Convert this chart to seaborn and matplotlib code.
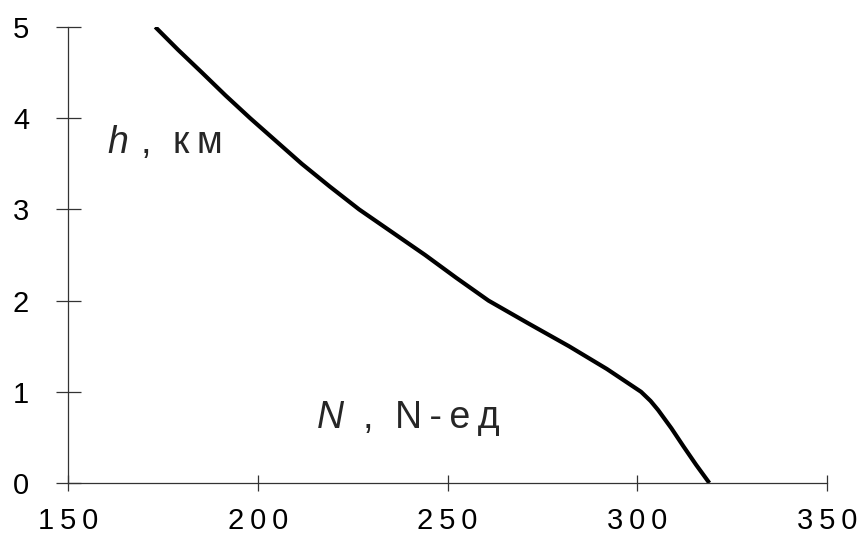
import matplotlib
matplotlib.use("Agg")
import matplotlib.pyplot as plt
import seaborn as sns
import pandas as pd

# Data
h_km = [5.0, 4.75, 4.5, 4.25, 4.0, 3.75, 3.5, 3.25, 3.0, 2.75, 2.5, 2.25, 2.0,
        1.75, 1.5, 1.25, 1.0, 0.9, 0.8, 0.6, 0.4, 0.2, 0.0]
N_units = [173, 179, 185.3, 191.5, 198, 204.8, 211.6, 219.0, 226.7, 235.4, 244.1, 252.3, 260.8,
           271.3, 282.0, 292.0, 301.0, 303.5, 305.5, 309, 312.2, 315.5, 319]
x_ticks = [150, 200, 250, 300, 350]
y_ticks = [0, 1, 2, 3, 4, 5]

sns.set_theme(style="white")
plt.rcParams['font.family'] = ['Liberation Sans', 'DejaVu Sans']

df = pd.DataFrame({"N": N_units, "h": h_km})

fig = plt.figure(figsize=(8.58, 5.39), dpi=100)
ax = fig.add_axes([68/858, 56/539, (827-68)/858, (483-27)/539])

sns.lineplot(data=df, x="N", y="h", sort=False, color="black", linewidth=3.0, ax=ax)
ax.lines[0].set_solid_joinstyle("round")
ax.lines[0].set_solid_capstyle("butt")

ax.set_xlim(150, 350)
ax.set_ylim(0, 5)
ax.set_xticks(x_ticks)
ax.set_yticks(y_ticks)
sp = "\u2009"
ax.set_xticklabels([sp.join(str(t)) for t in x_ticks])
ax.set_yticklabels([str(t) for t in y_ticks])
ax.set_xlabel("")
ax.set_ylabel("")

for s in ["top", "right"]:
    ax.spines[s].set_visible(False)
for s in ["left", "bottom"]:
    ax.spines[s].set_color("#333333")
    ax.spines[s].set_linewidth(0.9)

ax.tick_params(axis="y", direction="inout", length=18, width=0.9, color="#333333",
               pad=19, labelsize=21, labelcolor="black", left=True)
ax.tick_params(axis="x", direction="inout", length=12, width=0.9, color="#333333",
               pad=11, labelsize=21, labelcolor="black", bottom=True)

fs = 27
ax.text(160.3, 3.62, "h", fontsize=fs, style="italic", ha="left", va="baseline")
ax.text(169.2, 3.62, ",", fontsize=fs, ha="left", va="baseline")
ax.text(177.7, 3.62, "к\u2009м", fontsize=fs, ha="left", va="baseline")
ax.text(215.6, 0.60, "N", fontsize=fs, style="italic", ha="left", va="baseline")
ax.text(227.5, 0.60, ",", fontsize=fs, ha="left", va="baseline")
ax.text(236.2, 0.60, "N\u2009-\u2009е\u2009д", fontsize=fs, ha="left", va="baseline")

ax.set_facecolor("white")
fig.savefig("out.png", dpi=100, facecolor="white")
